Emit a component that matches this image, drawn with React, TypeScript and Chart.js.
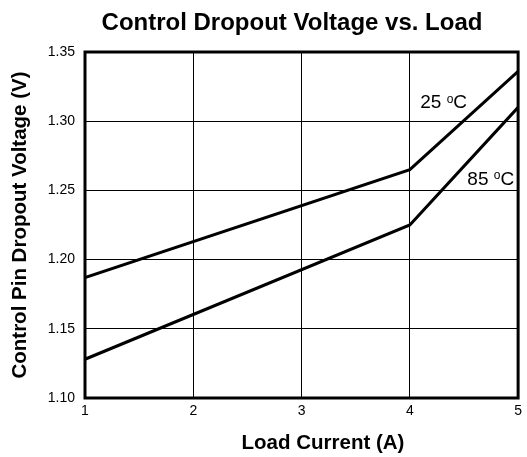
import React, { useEffect, useRef } from "react";
import { Chart, registerables } from "chart.js";

Chart.register(...registerables);

const loadCurrent = [1, 4, 5];
const v25 = [1.187, 1.265, 1.336];
const v85 = [1.128, 1.225, 1.31];
const yTicks = [1.1, 1.15, 1.2, 1.25, 1.3, 1.35];
const xTicks = [1, 2, 3, 4, 5];
const curveLabels = [
  { main: "25 ", sup: "o", unit: "C", x: 4.096, y: 1.313 },
  { main: "85 ", sup: "o", unit: "C", x: 4.531, y: 1.2575 },
];
const chartTitle = "Control Dropout Voltage vs. Load";
const xTitle = "Load Current (A)";
const yTitle = "Control Pin Dropout Voltage (V)";

const FONT = "'Liberation Sans', Arial, Helvetica, sans-serif";

const overlay = {
  id: "overlay",
  afterDatasetsDraw(chart: any) {
    const { ctx, chartArea, scales } = chart;
    ctx.save();
    ctx.strokeStyle = "#000";
    ctx.lineWidth = 3;
    ctx.strokeRect(chartArea.left, chartArea.top, chartArea.right - chartArea.left, chartArea.bottom - chartArea.top);
    ctx.fillStyle = "#000";
    ctx.textBaseline = "middle";
    ctx.textAlign = "left";
    for (const l of curveLabels) {
      let x = scales.x.getPixelForValue(l.x);
      const y = scales.y.getPixelForValue(l.y);
      ctx.font = `19px ${FONT}`;
      ctx.fillText(l.main, x, y);
      x += ctx.measureText(l.main).width;
      ctx.font = `12px ${FONT}`;
      ctx.fillText(l.sup, x, y - 4);
      x += ctx.measureText(l.sup).width;
      ctx.font = `19px ${FONT}`;
      ctx.fillText(l.unit, x, y);
    }
    // titles
    ctx.textAlign = "center";
    ctx.font = `bold 24px ${FONT}`;
    ctx.fillText(chartTitle, 292, 23);
    ctx.font = `bold 20.5px ${FONT}`;
    ctx.fillText(xTitle, 323, 443);
    ctx.translate(20, 225);
    ctx.rotate(-Math.PI / 2);
    ctx.fillText(yTitle, 0, 0);
    ctx.restore();
  },
};

export default function App() {
  const ref = useRef<HTMLCanvasElement>(null);
  useEffect(() => {
    if (!ref.current) return;
    const chart = new Chart(ref.current, {
      type: "line",
      data: {
        datasets: [
          {
            label: "25 °C",
            data: loadCurrent.map((x, i) => ({ x, y: v25[i] })),
            borderColor: "#000",
            borderWidth: 3,
            pointRadius: 0,
            fill: false,
          },
          {
            label: "85 °C",
            data: loadCurrent.map((x, i) => ({ x, y: v85[i] })),
            borderColor: "#000",
            borderWidth: 3,
            pointRadius: 0,
            fill: false,
          },
        ],
      },
      options: {
        animation: false,
        responsive: false,
        devicePixelRatio: 1,
        layout: { padding: { left: 0, right: 6, top: 52, bottom: 0 } },
        plugins: {
          legend: { display: false },
          tooltip: { enabled: false },
          title: { display: false },
        },
        scales: {
          x: {
            type: "linear",
            min: 1,
            max: 5,
            afterBuildTicks: (s: any) => {
              s.ticks = xTicks.map((v) => ({ value: v }));
            },
            afterFit: (s: any) => {
              s.height = 59;
            },
            ticks: { color: "#000", font: { family: FONT, size: 14 }, padding: 5, maxRotation: 0 },
            grid: { color: "#000", lineWidth: 1, drawTicks: false },
            border: { display: false },
          },
          y: {
            type: "linear",
            min: 1.1,
            max: 1.35,
            afterBuildTicks: (s: any) => {
              s.ticks = yTicks.map((v) => ({ value: v }));
            },
            afterFit: (s: any) => {
              s.width = 85;
            },
            ticks: {
              color: "#000",
              font: { family: FONT, size: 14 },
              padding: 10,
              callback: (v: any) => Number(v).toFixed(2),
            },
            grid: { color: "#000", lineWidth: 1, drawTicks: false },
            border: { display: false },
          },
        },
      },
      plugins: [overlay],
    });
    return () => chart.destroy();
  }, []);
  return (
    <div style={{ position: "fixed", left: 0, top: 0, width: 527, height: 457, background: "#fff" }}>
      <canvas ref={ref} width={527} height={457} style={{ width: 527, height: 457 }} />
    </div>
  );
}
